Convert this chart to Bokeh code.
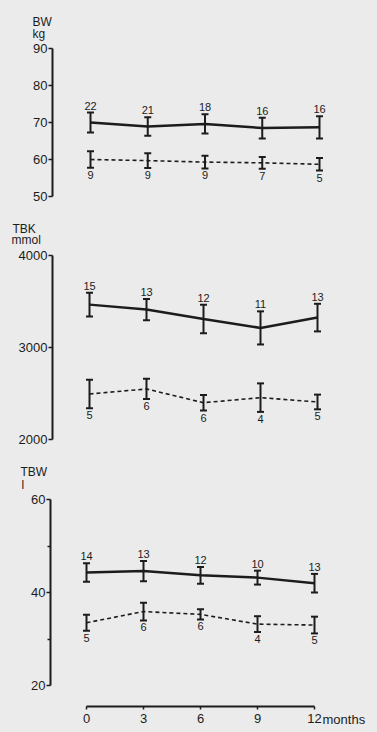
from bokeh.plotting import figure
from bokeh.models import ColumnDataSource, Whisker, TeeHead, Range1d, FixedTicker
from bokeh.layouts import column
from bokeh.embed import file_html
from bokeh.resources import INLINE
from bokeh.core.properties import value

months = [0, 3, 6, 9, 12]

# Body weight (kg)
bw_a = [70.0, 68.9, 69.6, 68.5, 68.7]
bw_a_err = [2.7, 2.5, 2.6, 2.8, 3.0]
bw_a_n = ["22", "21", "18", "16", "16"]
bw_b = [60.0, 59.7, 59.3, 59.1, 58.7]
bw_b_err = [2.2, 2.0, 1.7, 1.6, 1.7]
bw_b_n = ["9", "9", "9", "7", "5"]

# Total body potassium (mmol)
tbk_a = [3466, 3412, 3310, 3213, 3325]
tbk_a_err = [130, 115, 155, 180, 150]
tbk_a_n = ["15", "13", "12", "11", "13"]
tbk_b = [2495, 2549, 2400, 2455, 2408]
tbk_b_err = [155, 110, 85, 155, 80]
tbk_b_n = ["5", "6", "6", "4", "5"]

# Total body water (l)
tbw_a = [44.3, 44.6, 43.7, 43.2, 42.0]
tbw_a_err = [2.0, 2.2, 1.8, 1.5, 2.0]
tbw_a_n = ["14", "13", "12", "10", "13"]
tbw_b = [33.5, 35.9, 35.3, 33.2, 33.0]
tbw_b_err = [1.7, 1.9, 1.1, 1.7, 1.8]
tbw_b_n = ["5", "6", "6", "4", "5"]

FONT = "Liberation Sans"
INK = "#1c1c1c"
BG = "#ebebeb"
W = 377


def make_panel(height, px0, px12, axis_px, v_top, py_top, v_bot, py_bot,
               ticks, minor, a, a_err, a_n, b, b_err, b_n,
               titles, xaxis_py=None):
    kx = (px12 - px0) / 12.0
    x_start = -px0 / kx
    x_end = x_start + W / kx
    ky = (py_bot - py_top) / float(v_top - v_bot)
    y_end = v_top + py_top / ky
    y_start = v_bot - (height - py_bot) / ky

    def xv(px):
        return x_start + px / kx

    def yv(py):
        return y_end - py / ky

    p = figure(width=W, height=height, output_backend="svg", toolbar_location=None,
               x_range=Range1d(x_start, x_end), y_range=Range1d(y_start, y_end),
               x_axis_location="below" if xaxis_py is not None else None,
               min_border=0, min_border_left=0, min_border_right=0,
               min_border_top=0, min_border_bottom=0,
               background_fill_color=BG, border_fill_color=BG, outline_line_color=None,
               styles={"background-color": BG})
    p.grid.visible = False

    ya = p.yaxis[0]
    ya.fixed_location = xv(axis_px)
    ya.ticker = FixedTicker(ticks=ticks, minor_ticks=minor)
    ya.bounds = (min(ticks), max(ticks))
    ya.axis_line_width = 2
    ya.axis_line_color = INK
    ya.major_tick_out = 4
    ya.major_tick_in = 0
    ya.major_tick_line_width = 1.5
    ya.major_tick_line_color = INK
    ya.minor_tick_out = 3
    ya.minor_tick_in = 0
    ya.minor_tick_line_width = 1.5
    ya.minor_tick_line_color = INK
    ya.major_label_text_font = FONT
    ya.major_label_text_font_size = "13px"
    ya.major_label_text_color = INK
    ya.major_label_standoff = 1

    if xaxis_py is not None:
        xa = p.xaxis[0]
        xa.fixed_location = yv(xaxis_py)
        xa.ticker = FixedTicker(ticks=months)
        xa.bounds = (0, 12)
        xa.axis_line_width = 2
        xa.axis_line_color = INK
        xa.major_tick_out = 3
        xa.major_tick_in = 0
        xa.major_tick_line_width = 1.5
        xa.major_tick_line_color = INK
        xa.minor_tick_out = 0
        xa.minor_tick_in = 0
        xa.major_label_text_font = FONT
        xa.major_label_text_font_size = "13px"
        xa.major_label_text_color = INK
        xa.major_label_standoff = 4
        p.text(x=[12], y=[yv(xaxis_py)], text=["months"], x_offset=8, y_offset=5,
               text_font=value(FONT), text_font_size="13px", text_color=INK,
               text_align="left", text_baseline="top")

    for vals, errs, ns, dash, lw, above in ((a, a_err, a_n, "solid", 2.5, True),
                                            (b, b_err, b_n, "4 3", 1.6, False)):
        src = ColumnDataSource(dict(x=months, y=vals,
                                    up=[v + e for v, e in zip(vals, errs)],
                                    lo=[v - e for v, e in zip(vals, errs)],
                                    n=ns))
        p.line("x", "y", source=src, line_color=INK, line_width=lw, line_dash=dash)
        p.add_layout(Whisker(base="x", upper="up", lower="lo", source=src, dimension="height",
                             line_color=INK, line_width=2,
                             upper_head=TeeHead(size=7, line_width=2, line_color=INK),
                             lower_head=TeeHead(size=7, line_width=2, line_color=INK)))
        p.text("x", "up" if above else "lo", text="n", source=src,
               text_font=value(FONT), text_font_size="11px", text_color=INK,
               text_align="center", text_baseline="bottom" if above else "top",
               y_offset=-3 if above else 3)

    tx = [xv(t[1]) for t in titles]
    ty = [yv(t[2]) for t in titles]
    p.text(x=tx, y=ty, text=[t[0] for t in titles],
           text_font=value(FONT), text_font_size="12px", text_color=INK,
           text_align="left", text_baseline="top")
    return p


p1 = make_panel(205, 90, 319, 52, 90, 48, 50, 196, [50, 60, 70, 80, 90], [],
                bw_a, bw_a_err, bw_a_n, bw_b, bw_b_err, bw_b_n,
                [("BW", 32, 14), ("kg", 32, 26)])
p2 = make_panel(245, 89, 317, 52, 4000, 50, 2000, 234, [2000, 3000, 4000], [],
                tbk_a, tbk_a_err, tbk_a_n, tbk_b, tbk_b_err, tbk_b_n,
                [("TBK", 12, 16), ("mmol", 11, 27)])
p3 = make_panel(282, 86, 314, 50, 60, 49, 20, 235, [20, 40, 60], [30, 50],
                tbw_a, tbw_a_err, tbw_a_n, tbw_b, tbw_b_err, tbw_b_n,
                [("TBW", 20, 14), ("l", 21, 27)], xaxis_py=256)

layout = column(p1, p2, p3, spacing=0, styles={"background-color": BG})

html = file_html(layout, INLINE)
html = html.replace("<body>", '<body style="background:%s">' % BG, 1)
open("out.html", "w").write(html)
